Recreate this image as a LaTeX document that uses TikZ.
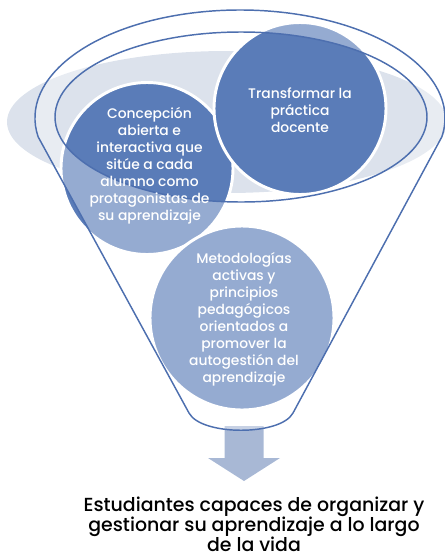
\documentclass[tikz,border=0pt]{standalone}
\usepackage{fontspec}
\setmainfont{Poppins}[UprightFont={* Medium}]
\definecolor{cdark}{HTML}{5A7CB8}
\definecolor{cline}{HTML}{4D6FAF}
\definecolor{clight}{HTML}{DCE2EC}
\definecolor{carrow}{HTML}{A8B8D5}
\begin{document}
\begin{tikzpicture}[x=0.75pt,y=-0.75pt,
  disc/.style={circle, fill=cdark, draw=white, line width=2.2pt, inner sep=0pt, minimum size=#1},
  intext/.style={text=white, align=center, inner sep=0pt, font=\fontsize{10.4}{12.75}\selectfont},
  outtext/.style={text=black, align=center, inner sep=0pt, font=\fontsize{14.2}{15}\selectfont},
  funnelline/.style={draw=cline, line width=1.1pt}]
\useasboundingbox (0,0) rectangle (445,557);
% background ellipse
\fill[clight] (227,122) ellipse [x radius=220, y radius=71];
% circles
\node[disc=129pt] (c1) at (147,168.5) {};
\node[disc=129pt] (c2) at (300,108.5) {};
\node[disc=138pt] (c3) at (242,318) {};
% arrow
\fill[carrow] (224.5,426) -- (263.5,426) -- (263.5,458) -- (280,458) -- (244,481) -- (208,458) -- (224.5,458) -- cycle;
% funnel body (translucent)
\path[fill=white, fill opacity=0.36, even odd rule]
  (38.1,136.75) arc[start angle=170, end angle=370, x radius=205, y radius=108]
  -- (293,413) .. controls (280.6,436) and (201.4,436) .. (189,413) -- cycle
  (241,117) ellipse [x radius=186, y radius=85];
% funnel outline
\draw[funnelline, line join=round]
  (38.1,136.75) arc[start angle=170, end angle=370, x radius=205, y radius=108]
  -- (293,413) .. controls (280.6,436) and (201.4,436) .. (189,413) -- cycle;
\draw[funnelline] (241,117) ellipse [x radius=186, y radius=85];
% texts
\node[intext] (t1) at (149.5,166) {Concepción\\abierta e\\interactiva que\\sitúe a cada\\alumno como\\protagonistas de\\su aprendizaje};
\node[intext] (t2) at (300,110) {Transformar la\\práctica\\docente};
\node[intext] (t3) at (244,319.5) {Metodologías\\activas y\\principios\\pedagógicos\\orientados a\\promover la\\autogestión del\\aprendizaje};
\node[outtext] (t4) at (254,524.5) {Estudiantes capaces de organizar y\\gestionar su aprendizaje a lo largo\\de la vida};
\end{tikzpicture}
\end{document}
